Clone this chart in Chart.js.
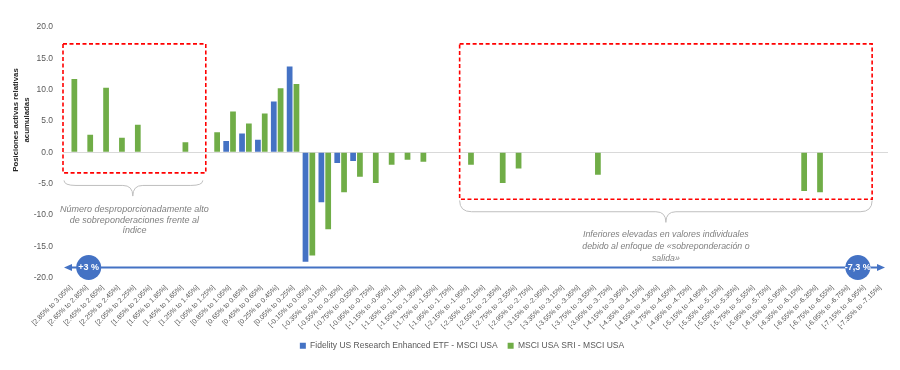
<!DOCTYPE html>
<html>
<head>
<meta charset="utf-8">
<script src="https://cdn.jsdelivr.net/npm/chart.js@4.4.1/dist/chart.umd.min.js"></script>
<style>
html,body{margin:0;padding:0;background:#fff;}
#wrap{width:900px;height:370px;position:relative;}
</style>
</head>
<body>
<div id="wrap"><canvas id="c" width="900" height="370"></canvas></div>
<script>
const categories = [
  "[2.85% to 3.05%]","[2.65% to 2.85%]","[2.45% to 2.65%]","[2.25% to 2.45%]","[2.05% to 2.25%]",
  "[1.85% to 2.05%]","[1.65% to 1.85%]","[1.45% to 1.65%]","[1.25% to 1.45%]","[1.05% to 1.25%]",
  "[0.85% to 1.05%]","[0.65% to 0.85%]","[0.45% to 0.65%]","[0.25% to 0.45%]","[0.05% to 0.25%]",
  "[-0.15% to 0.05%]","[-0.35% to -0.15%]","[-0.55% to -0.35%]","[-0.75% to -0.55%]","[-0.95% to -0.75%]",
  "[-1.15% to -0.95%]","[-1.35% to -1.15%]","[-1.55% to -1.35%]","[-1.75% to -1.55%]","[-1.95% to -1.75%]",
  "[-2.15% to -1.95%]","[-2.35% to -2.15%]","[-2.55% to -2.35%]","[-2.75% to -2.55%]","[-2.95% to -2.75%]",
  "[-3.15% to -2.95%]","[-3.35% to -3.15%]","[-3.55% to -3.35%]","[-3.75% to -3.55%]","[-3.95% to -3.75%]",
  "[-4.15% to -3.95%]","[-4.35% to -4.15%]","[-4.55% to -4.35%]","[-4.75% to -4.55%]","[-4.95% to -4.75%]",
  "[-5.15% to -4.95%]","[-5.35% to -5.15%]","[-5.55% to -5.35%]","[-5.75% to -5.55%]","[-5.95% to -5.75%]",
  "[-6.15% to -5.95%]","[-6.35% to -6.15%]","[-6.55% to -6.35%]","[-6.75% to -6.55%]","[-6.95% to -6.75%]",
  "[-7.15% to -6.95%]","[-7.35% to -7.15%]"
];
const fidelityValues = [
  null,null,null,null,null, null,null,null,null,null,
  1.8,3.0,2.0,8.1,13.7, -17.5,-8.0,-1.7,-1.4,null,
  null,null,null,null,null, null,null,null,null,null,
  null,null,null,null,null, null,null,null,null,null,
  null,null,null,null,null, null,null,null,null,null,
  null,null
];
const sriValues = [
  11.7,2.8,10.3,2.3,4.4, null,null,1.6,null,3.2,
  6.5,4.6,6.2,10.2,10.9, -16.5,-12.3,-6.4,-3.9,-4.9,
  -2.0,-1.2,-1.5,null,null, -2.0,null,-4.9,-2.6,null,
  null,null,null,-3.6,null, null,null,null,null,null,
  null,null,null,null,null, null,-6.2,-6.4,null,null,
  null,null
];
const seriesNames = ["Fidelity US Research Enhanced ETF - MSCI USA", "MSCI USA SRI - MSCI USA"];
const yTicks = [20, 15, 10, 5, 0, -5, -10, -15, -20];
const yTitle = ["Posiciones activas relativas", "acumuladas"];
const note1 = ["Número desproporcionadamente alto", "de sobreponderaciones frente al", "índice"];
const note2 = ["Inferiores elevadas en valores individuales", "debido al enfoque de «sobreponderación o", "salida»"];
const arrowLabels = ["+3 %", "-7,3 %"];

const BLUE = "#4472C4", GREEN = "#70AD47";
const FONT = "'Liberation Sans', Arial, sans-serif";

function brace(ctx, x1, x2, yTop, yMid, yTip, xTip) {
  ctx.beginPath();
  ctx.moveTo(x1, yTop);
  ctx.quadraticCurveTo(x1, yMid, x1 + 12, yMid);
  ctx.lineTo(xTip - 10, yMid);
  ctx.quadraticCurveTo(xTip, yMid, xTip, yTip);
  ctx.quadraticCurveTo(xTip, yMid, xTip + 10, yMid);
  ctx.lineTo(x2 - 12, yMid);
  ctx.quadraticCurveTo(x2, yMid, x2, yTop);
  ctx.stroke();
}

const decor = {
  id: 'decor',
  afterLayout(chart) {
    const lg = chart.legend;
    if (lg) { lg.left += 18; lg.right += 18; }
  },
  afterDraw(chart) {
    const ctx = chart.ctx;
    const xs = chart.scales.x, ys = chart.scales.y;
    const X = v => xs.getPixelForValue(v);
    const Y = v => ys.getPixelForValue(v);
    ctx.save();
    // y-axis title
    ctx.fillStyle = "#262626";
    ctx.font = "bold 7.8px " + FONT;
    ctx.textAlign = "center"; ctx.textBaseline = "middle";
    yTitle.forEach((t, i) => {
      ctx.save();
      ctx.translate(16 + i * 10.5, 120);
      ctx.rotate(-Math.PI / 2);
      ctx.fillText(t, 0, 0);
      ctx.restore();
    });
    // red dashed boxes
    ctx.strokeStyle = "#FF0000"; ctx.lineWidth = 1.6; ctx.setLineDash([4, 2.5]);
    ctx.strokeRect(X(-0.5), Y(17.3), X(8.5) - X(-0.5), Y(-3.3) - Y(17.3));
    ctx.strokeRect(X(24.5), Y(17.3), X(50.5) - X(24.5), Y(-7.5) - Y(17.3));
    ctx.setLineDash([]);
    // braces
    ctx.strokeStyle = "#BFBFBF"; ctx.lineWidth = 1;
    brace(ctx, X(-0.5) + 1, X(8.5) - 3, Y(-4.5), Y(-5.3), Y(-7.0), X(3.9));
    brace(ctx, X(24.5), X(50.5), Y(-7.7), Y(-9.5), Y(-11.2), X(37.5));
    // notes
    ctx.fillStyle = "#7F7F7F";
    ctx.font = "italic 9px " + FONT;
    note1.forEach((t, i) => ctx.fillText(t, X(4.0), 209.5 + i * 10.7));
    ctx.font = "italic 8.8px " + FONT;
    note2.forEach((t, i) => ctx.fillText(t, X(37.5), 234.5 + i * 11.8));
    // arrow line
    const ay = Y(-18.4);
    const ax1 = xs.left + 1, ax2 = xs.right - 3;
    ctx.strokeStyle = BLUE; ctx.fillStyle = BLUE; ctx.lineWidth = 1.8;
    ctx.beginPath(); ctx.moveTo(ax1 + 6, ay); ctx.lineTo(ax2 - 6, ay); ctx.stroke();
    ctx.beginPath(); ctx.moveTo(ax1, ay); ctx.lineTo(ax1 + 8, ay - 3.5); ctx.lineTo(ax1 + 8, ay + 3.5); ctx.closePath(); ctx.fill();
    ctx.beginPath(); ctx.moveTo(ax2, ay); ctx.lineTo(ax2 - 8, ay - 3.5); ctx.lineTo(ax2 - 8, ay + 3.5); ctx.closePath(); ctx.fill();
    [[1.12, arrowLabels[0]], [49.6, arrowLabels[1]]].forEach(([v, t]) => {
      ctx.fillStyle = BLUE;
      ctx.beginPath(); ctx.arc(X(v), ay, 12.5, 0, Math.PI * 2); ctx.fill();
      ctx.fillStyle = "#FFFFFF";
      ctx.font = "bold 9px " + FONT;
      ctx.fillText(t, X(v), ay + 0.5);
    });
    ctx.restore();
  }
};

new Chart(document.getElementById('c'), {
  type: 'bar',
  data: {
    labels: categories,
    datasets: [
      { label: seriesNames[0], data: fidelityValues, backgroundColor: BLUE, borderWidth: 0,
        categoryPercentage: 0.86, barPercentage: 0.84 },
      { label: seriesNames[1], data: sriValues, backgroundColor: GREEN, borderWidth: 0,
        categoryPercentage: 0.86, barPercentage: 0.84 }
    ]
  },
  options: {
    responsive: false,
    animation: false,
    devicePixelRatio: 1,
    layout: { padding: { top: 27, right: 12, bottom: 10, left: 0 } },
    plugins: {
      legend: {
        position: 'bottom',
        labels: {
          boxWidth: 6, boxHeight: 6, padding: 10, color: "#595959",
          font: { family: FONT, size: 8.5 }
        }
      },
      tooltip: { enabled: false }
    },
    scales: {
      x: {
        grid: { display: false },
        border: { display: false },
        ticks: {
          autoSkip: false, maxRotation: 45, minRotation: 45, padding: -2,
          color: "#595959", font: { family: FONT, size: 7 }
        },
        afterFit(scale) { scale.height = 54; }
      },
      y: {
        min: -20, max: 20,
        afterBuildTicks(scale) { scale.ticks = yTicks.map(v => ({ value: v })); },
        afterFit(scale) { scale.width = 63; },
        border: { display: false },
        grid: {
          drawTicks: false,
          color: c => (c.tick && c.tick.value === 0) ? "#D9D9D9" : "rgba(0,0,0,0)",
          lineWidth: 1
        },
        ticks: {
          padding: 10, color: "#595959", font: { family: FONT, size: 8.5 },
          callback: v => Number(v).toFixed(1)
        }
      }
    }
  },
  plugins: [decor]
});
</script>
</body>
</html>
